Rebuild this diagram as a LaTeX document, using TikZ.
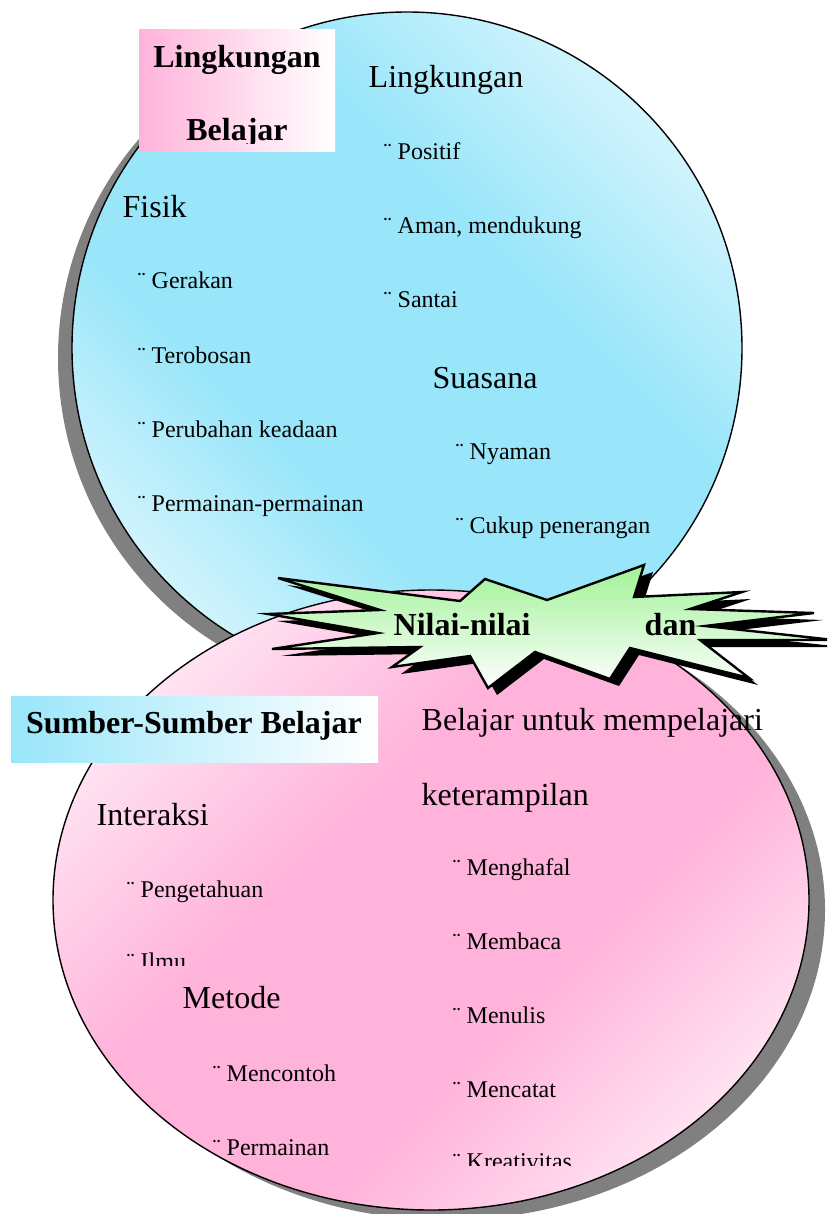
\documentclass[tikz,border=0pt]{standalone}
\usepackage{fontspec}
\setmainfont{Liberation Serif}
\usepackage{tikz}
\usetikzlibrary{positioning}
\definecolor{skyblue}{RGB}{153,230,250}
\definecolor{softpink}{RGB}{255,178,218}
\definecolor{mintgreen}{RGB}{160,242,150}
\definecolor{shadowgray}{RGB}{128,128,128}
\pgfdeclarehorizontalshading{skyband}{100bp}{color(0bp)=(skyblue!8); color(17bp)=(skyblue!12); color(38bp)=(skyblue); color(60bp)=(skyblue); color(83bp)=(skyblue!15); color(100bp)=(skyblue!8)}
\pgfdeclarehorizontalshading{pinkband}{100bp}{color(0bp)=(softpink!5); color(18bp)=(softpink!10); color(40bp)=(softpink); color(58bp)=(softpink); color(82bp)=(softpink!10); color(100bp)=(softpink!5)}

\begin{document}
\begin{tikzpicture}[
    x=1pt, y=-1pt,
    line width=1.4pt,
    bigtext/.style={anchor=base west, inner sep=0pt, font=\fontsize{32}{38}\selectfont},
    itemtext/.style={anchor=base west, inner sep=0pt, font=\fontsize{24}{28}\selectfont},
    titletext/.style={anchor=base, inner sep=0pt, font=\fontsize{32}{38}\selectfont\bfseries},
    topfill/.style={shade, shading=skyband, shading angle=45},
    lowfill/.style={shade, shading=pinkband, shading angle=135},
    burstfill/.style={top color=mintgreen, bottom color=white, draw=black, line width=2.4pt, line join=miter}
]
\clip (0,0) rectangle (827,1214);

\fill[shadowgray] (393,358) ellipse [x radius=335, y radius=336];
\draw[topfill] (407,348) ellipse [x radius=335, y radius=336];

\fill[left color=softpink, right color=white] (139,30) rectangle (335,152);
\node[titletext] (labtopa) at (237,68) {Lingkungan};
\begin{scope}
  \clip (139,30) rectangle (335,144);
  \node[titletext] (labtopb) at (237,141) {Belajar};
\end{scope}

\node[bigtext] (lingk) at (368,88) {Lingkungan};
\node[itemtext] (positif) at (383,160) {¨ Positif};
\node[itemtext] (aman) at (383,234) {¨ Aman, mendukung};
\node[itemtext] (santai) at (383,307) {¨ Santai};
\node[bigtext] (suasana) at (432,388) {Suasana};
\node[itemtext] (nyaman) at (455,459) {¨ Nyaman};
\node[itemtext] (cukup) at (455,533) {¨ Cukup penerangan};

\node[bigtext] (fisik) at (122,218) {Fisik};
\node[itemtext] (gerakan) at (137,289) {¨ Gerakan};
\node[itemtext] (terobosan) at (137,363) {¨ Terobosan};
\node[itemtext] (perubahan) at (137,437) {¨ Perubahan keadaan};
\node[itemtext] (permainanp) at (137,511) {¨ Permainan-permainan};

\fill[shadowgray] (447,910) ellipse [x radius=378, y radius=310];
\draw[lowfill] (431,900) ellipse [x radius=378, y radius=310];

\fill[left color=skyblue, right color=white] (11,696) rectangle (378,762);
\node[titletext] (labbottom) at (194,733) {Sumber-Sumber Belajar};

\node[bigtext] (belajar) at (421,730) {Belajar untuk mempelajari};
\node[bigtext] (terampil) at (421,805) {keterampilan};
\node[itemtext] (menghafal) at (452,875) {¨ Menghafal};
\node[itemtext] (membaca) at (452,949) {¨ Membaca};
\node[itemtext] (menulis) at (452,1023) {¨ Menulis};
\node[itemtext] (mencatat) at (452,1097) {¨ Mencatat};
\begin{scope}
  \clip (440,1120) rectangle (700,1165);
  \node[itemtext] (kreatif) at (452,1169) {¨ Kreativitas};
\end{scope}

\node[bigtext] (interaksi) at (96,825) {Interaksi};
\node[itemtext] (pengetahuan) at (126,897) {¨ Pengetahuan};
\begin{scope}
  \clip (110,930) rectangle (300,965);
  \node[itemtext] (ilmu) at (126,969) {¨ Ilmu};
\end{scope}
\node[bigtext] (metode) at (182,1008) {Metode};
\node[itemtext] (mencontoh) at (212,1081) {¨ Mencontoh};
\node[itemtext] (permainan) at (212,1155) {¨ Permainan};

\begin{scope}[shift={(9,7)}]
  \fill[black] (278,578) -- (460,601) -- (485,579) -- (547,600) -- (644,565) -- (634,597) -- (742,592) -- (690,609) -- (814,613) -- (705,626) -- (834,640) -- (700,640) -- (749,678) -- (630,648) -- (610,679) -- (535,652) -- (488,688) -- (470,656) -- (392,667) -- (420,647) -- (272,649) -- (378,633) -- (268,614) -- (380,610) -- cycle;
\end{scope}
\draw[burstfill] (278,578) -- (460,601) -- (485,579) -- (547,600) -- (644,565) -- (634,597) -- (742,592) -- (690,609) -- (814,613) -- (705,626) -- (834,640) -- (700,640) -- (749,678) -- (630,648) -- (610,679) -- (535,652) -- (488,688) -- (470,656) -- (392,667) -- (420,647) -- (272,649) -- (378,633) -- (268,614) -- (380,610) -- cycle;
\node[anchor=base west, inner sep=0pt, font=\fontsize{32}{38}\selectfont\bfseries] (nilai) at (393,635) {Nilai-nilai};
\node[anchor=base west, inner sep=0pt, font=\fontsize{32}{38}\selectfont\bfseries] (dan) at (644,635) {dan};
\end{tikzpicture}
\end{document}
